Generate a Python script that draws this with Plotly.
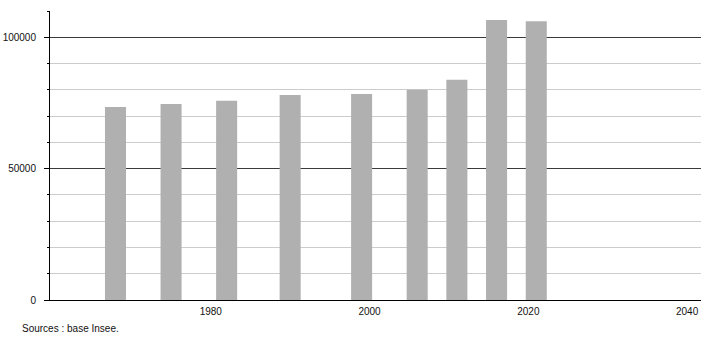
import plotly.graph_objects as go

years = [1968, 1975, 1982, 1990, 1999, 2006, 2011, 2016, 2021]
population = [73500, 74600, 75800, 78000, 78400, 80000, 83800, 106600, 106100]
x_ticks = [1980, 2000, 2020, 2040]
y_ticks = [0, 50000, 100000]
y_tick_labels = ["0", "50000", "100000"]
source_text = "Sources : base Insee."

fig = go.Figure()
fig.add_trace(go.Bar(
    x=years, y=population, width=2.65,
    marker=dict(color="#b0b0b0", line=dict(width=0)),
    hoverinfo="x+y",
))

font = dict(family="Liberation Sans, Arial, sans-serif", size=10, color="#111")

fig.update_layout(
    width=710, height=340,
    margin=dict(l=50, r=9, t=11, b=40),
    paper_bgcolor="white", plot_bgcolor="white",
    showlegend=False,
    font=font,
    xaxis=dict(
        range=[1959.75, 2041.75],
        tickvals=x_ticks,
        ticktext=[str(v) for v in x_ticks],
        ticks="", showgrid=False, zeroline=False,
        showline=True, linecolor="black", linewidth=1,
        tickfont=font, ticklabelstandoff=2,
        automargin=False,
        fixedrange=True,
    ),
    yaxis=dict(
        range=[0, 110000],
        tickvals=y_ticks,
        ticktext=y_tick_labels,
        ticks="outside", ticklen=5, tickcolor="black", tickwidth=1,
        showgrid=True, gridcolor="#3a3a3a", gridwidth=1,
        zeroline=False,
        showline=True, linecolor="black", linewidth=1,
        tickfont=font, ticklabelstandoff=6,
        automargin=False,
        minor=dict(dtick=10000, ticks="outside", ticklen=2, tickcolor="black",
                   showgrid=True, gridcolor="#cccccc", gridwidth=1),
        fixedrange=True,
    ),
    annotations=[dict(
        text=source_text, xref="paper", yref="paper",
        x=-30/651, y=-28/289, xanchor="left", yanchor="middle",
        showarrow=False, font=font,
    )],
)

fig.write_html("out.html")
